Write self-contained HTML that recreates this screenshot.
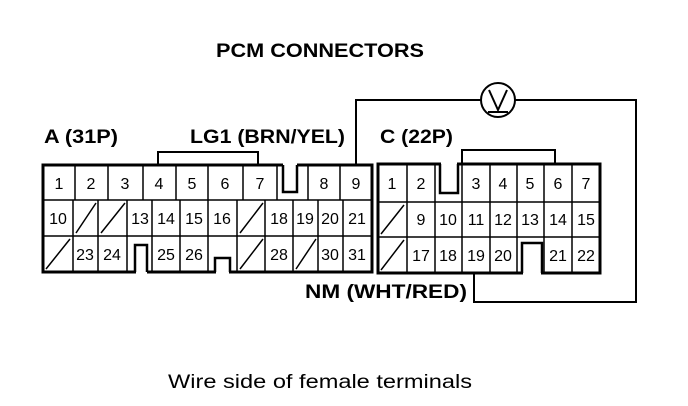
<!DOCTYPE html>
<html><head><meta charset="utf-8"><style>
html,body{margin:0;padding:0;background:#fff;}
svg{display:block;}
text{font-family:"Liberation Sans",sans-serif;fill:#000;}
.n{font-size:16px;text-anchor:middle;}
.b{font-weight:bold;font-size:19px;}
</style></head><body>
<svg width="688" height="406" viewBox="0 0 688 406" xmlns="http://www.w3.org/2000/svg">
<text x="216" y="57" class="b" font-size="20" textLength="208" lengthAdjust="spacingAndGlyphs">PCM CONNECTORS</text>
<text x="44" y="143" class="b" textLength="74" lengthAdjust="spacingAndGlyphs">A (31P)</text>
<text x="190" y="143" class="b" textLength="155" lengthAdjust="spacingAndGlyphs">LG1 (BRN/YEL)</text>
<text x="380" y="143" class="b" textLength="73" lengthAdjust="spacingAndGlyphs">C (22P)</text>
<text x="305" y="298" class="b" textLength="162" lengthAdjust="spacingAndGlyphs">NM (WHT/RED)</text>
<text x="168" y="388" font-size="19" textLength="304" lengthAdjust="spacingAndGlyphs">Wire side of female terminals</text>

<g fill="none" stroke="#000">
<polyline points="158,165 158,152 258,152 258,165" stroke-width="2"/>
<polyline points="462,163 462,150 555,150 555,163" stroke-width="2"/>
<polyline points="356,165 356,100 481,100" stroke-width="2"/>
<polyline points="515,100 636,100 636,302 474,302 474,273" stroke-width="2"/>
<circle cx="498" cy="100" r="17" stroke-width="2"/>
<polyline points="489,90 498,110 507,90" stroke-width="2"/>
<line x1="488" y1="112" x2="508" y2="112" stroke-width="2"/>

<rect x="43" y="165" width="329" height="107" stroke-width="3"/>
<line x1="43" y1="200" x2="372" y2="200" stroke-width="1.5"/>
<line x1="43" y1="236" x2="372" y2="236" stroke-width="1.5"/>
<g stroke-width="1.5">
<path d="M75 165V200M108 165V200M143 165V200M176 165V200M208 165V200M243 165V200M277 165V200M308 165V200M340 165V200"/>
<path d="M73 200V272M98 200V272M127 200V272M152 200V272M180 200V272M208 200V272M237 200V272M265 200V272M293 200V272M318 200V272M343 200V272"/>
<path d="M76 233L96 203M101 233L125 203M240 233L263 203M46 269L70 239M240 269L263 239M296 269L316 239"/>
</g>
<rect x="283" y="162" width="14" height="5" fill="#fff" stroke="none"/>
<polyline points="283,165 283,192 297,192 297,165" stroke-width="2.5"/>
<rect x="136" y="270" width="11" height="4" fill="#fff" stroke="none"/>
<polyline points="135,272 135,245 147,245 147,272" stroke-width="2.5"/>
<rect x="216" y="270" width="13" height="4" fill="#fff" stroke="none"/>
<polyline points="215,272 215,258 230,258 230,272" stroke-width="2.5"/>

<rect x="378" y="164" width="222" height="109" stroke-width="3"/>
<line x1="378" y1="202" x2="600" y2="202" stroke-width="1.5"/>
<line x1="378" y1="237" x2="600" y2="237" stroke-width="1.5"/>
<g stroke-width="1.5">
<path d="M407 164V273M435 164V202M462 164V273M490 164V273M517 164V273M544 164V273M572 164V273M435 202V273"/>
<path d="M381 234L404 205M381 270L404 240"/>
</g>
<rect x="441" y="161" width="16" height="5" fill="#fff" stroke="none"/>
<polyline points="440,164 440,193 458,193 458,164" stroke-width="2.5"/>
<rect x="523" y="271" width="18" height="4" fill="#fff" stroke="none"/>
<polyline points="522,273 522,243 542,243 542,273" stroke-width="2.5"/>
</g>

<g class="n">
<text x="59" y="189" class="n">1</text><text x="91" y="189" class="n">2</text><text x="125" y="189" class="n">3</text><text x="159" y="189" class="n">4</text><text x="192" y="189" class="n">5</text><text x="225" y="189" class="n">6</text><text x="260" y="189" class="n">7</text><text x="324" y="189" class="n">8</text><text x="356" y="189" class="n">9</text>
<text x="58" y="224" class="n">10</text><text x="140" y="224" class="n">13</text><text x="166" y="224" class="n">14</text><text x="194" y="224" class="n">15</text><text x="222" y="224" class="n">16</text><text x="279" y="224" class="n">18</text><text x="305" y="224" class="n">19</text><text x="330" y="224" class="n">20</text><text x="357" y="224" class="n">21</text>
<text x="85" y="260" class="n">23</text><text x="112" y="260" class="n">24</text><text x="166" y="260" class="n">25</text><text x="194" y="260" class="n">26</text><text x="279" y="260" class="n">28</text><text x="330" y="260" class="n">30</text><text x="357" y="260" class="n">31</text>
<text x="392" y="189" class="n">1</text><text x="421" y="189" class="n">2</text><text x="476" y="189" class="n">3</text><text x="503" y="189" class="n">4</text><text x="530" y="189" class="n">5</text><text x="558" y="189" class="n">6</text><text x="586" y="189" class="n">7</text>
<text x="421" y="225" class="n">9</text><text x="448" y="225" class="n">10</text><text x="476" y="225" class="n">11</text><text x="503" y="225" class="n">12</text><text x="530" y="225" class="n">13</text><text x="558" y="225" class="n">14</text><text x="586" y="225" class="n">15</text>
<text x="421" y="261" class="n">17</text><text x="448" y="261" class="n">18</text><text x="476" y="261" class="n">19</text><text x="503" y="261" class="n">20</text><text x="558" y="261" class="n">21</text><text x="586" y="261" class="n">22</text>
</g>
</svg>
</body></html>
